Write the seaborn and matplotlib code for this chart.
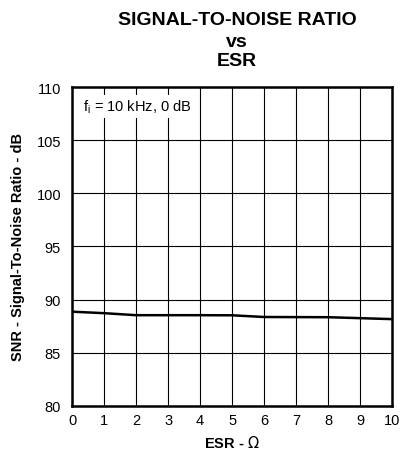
import matplotlib
matplotlib.use("Agg")
import matplotlib.pyplot as plt
import seaborn as sns
import pandas as pd

# data
esr_ohm = [0, 1, 2, 3, 4, 5, 6, 7, 8, 9, 10]
snr_db = [88.86, 88.72, 88.53, 88.53, 88.53, 88.52, 88.36, 88.35, 88.34, 88.25, 88.16]

df = pd.DataFrame({"ESR": esr_ohm, "SNR": snr_db})

sns.set_style("white", {"text.color": "black", "axes.labelcolor": "black",
                        "xtick.color": "black", "ytick.color": "black"})
plt.rcParams["font.family"] = ["Liberation Sans", "DejaVu Sans"]

fig = plt.figure(figsize=(4.01, 4.52), dpi=100)
ax = fig.add_axes([0.18, 0.1, 0.798, 0.705])

sns.lineplot(data=df, x="ESR", y="SNR", color="black", linewidth=1.8, ax=ax)

ax.set_xlim(0, 10)
ax.set_ylim(80, 110)
ax.set_xticks(range(0, 11))
ax.set_yticks(range(80, 111, 5))
ax.grid(True, color="black", linewidth=0.8)
for s in ax.spines.values():
    s.set_color("black")
    s.set_linewidth(1.8)
ax.tick_params(axis="both", length=0, labelsize=10.5, colors="black")
ax.tick_params(axis="y", pad=8)
ax.tick_params(axis="x", pad=5)

ax.set_xlabel(r"ESR - $\Omega$", fontsize=10.5, fontweight="bold", labelpad=5, color="black")
ax.set_ylabel("SNR - Signal-To-Noise Ratio - dB", fontsize=10.5, fontweight="bold",
              labelpad=8, color="black")

ax.text(0.35, 108.2, r"f$_\mathregular{i}$ = 10 kHz, 0 dB", fontsize=10.5,
        va="center", ha="left", color="black",
        bbox=dict(facecolor="white", edgecolor="none", pad=2))

fig.text(0.591, 0.954, "SIGNAL-TO-NOISE RATIO", ha="center", va="center",
         fontsize=14, fontweight="bold", color="black")
fig.text(0.591, 0.905, "vs", ha="center", va="center", fontsize=14,
         fontweight="bold", color="black")
fig.text(0.591, 0.863, "ESR", ha="center", va="center", fontsize=14,
         fontweight="bold", color="black")

fig.savefig("out.png", dpi=100)
